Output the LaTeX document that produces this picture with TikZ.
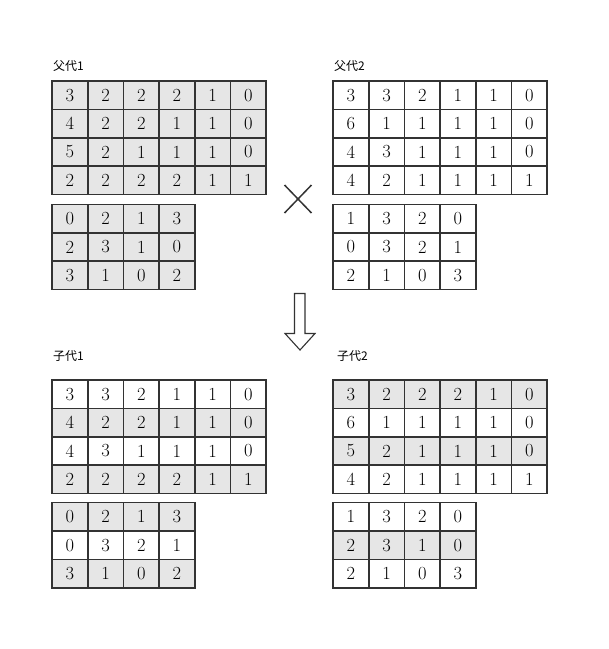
\documentclass[tikz,border=0pt]{standalone}
\usepackage{fontspec}
\newfontfamily\cjk{Noto Sans CJK SC}
\definecolor{cellgray}{HTML}{E6E6E6}
\definecolor{gridline}{HTML}{333333}
\tikzset{
  cell/.style={draw=gridline, line width=1.6pt, minimum width=35.7pt, minimum height=28.4pt,
    inner sep=0pt, font=\fontsize{18.5}{18.5}\selectfont},
  title/.style={anchor=west, inner sep=0pt, font=\cjk\fontsize{12}{12}\selectfont},
  mark cross/.style={draw=gridline, line width=1.5pt},
  hollow arrow/.style={draw=gridline, line width=1.1pt, fill=white}
}
\begin{document}
\begin{tikzpicture}[x=1pt,y=-1pt]
\useasboundingbox (0,0) rectangle (609,649);

% parent 1
\node[title] (palab) at (53,66) {父代1};
\foreach \r/\f/\vals in {0/cellgray/{3,2,2,2,1,0},1/cellgray/{4,2,2,1,1,0},
                          2/cellgray/{5,2,1,1,1,0},3/cellgray/{2,2,2,2,1,1}}
  \foreach \v [count=\c] in \vals
    \node[cell,fill=\f] (pa\r\c) at ({52+35.7*(\c-0.5)},{81+28.4*(\r+0.5)}) {\v};
\foreach \r/\f/\vals in {0/cellgray/{0,2,1,3},1/cellgray/{2,3,1,0},2/cellgray/{3,1,0,2}}
  \foreach \v [count=\c] in \vals
    \node[cell,fill=\f] (pb\r\c) at ({52+35.7*(\c-0.5)},{204.3+28.4*(\r+0.5)}) {\v};

% parent 2
\node[title] (qalab) at (334,66) {父代2};
\foreach \r/\f/\vals in {0/white/{3,3,2,1,1,0},1/white/{6,1,1,1,1,0},
                          2/white/{4,3,1,1,1,0},3/white/{4,2,1,1,1,1}}
  \foreach \v [count=\c] in \vals
    \node[cell,fill=\f] (qa\r\c) at ({333+35.7*(\c-0.5)},{81+28.4*(\r+0.5)}) {\v};
\foreach \r/\f/\vals in {0/white/{1,3,2,0},1/white/{0,3,2,1},2/white/{2,1,0,3}}
  \foreach \v [count=\c] in \vals
    \node[cell,fill=\f] (qb\r\c) at ({333+35.7*(\c-0.5)},{204.3+28.4*(\r+0.5)}) {\v};

% crossover sign and arrow
\draw[mark cross] (284.5,185) -- (311.5,213);
\draw[mark cross] (284.5,213) -- (311.5,185);
\draw[hollow arrow] (294.5,293.5) -- (305,293.5) -- (305,333.5) -- (315,333.5)
  -- (300,350) -- (285,333.5) -- (294.5,333.5) -- cycle;

% child 1
\node[title] (calab) at (53,356) {子代1};
\foreach \r/\f/\vals in {0/white/{3,3,2,1,1,0},1/cellgray/{4,2,2,1,1,0},
                          2/white/{4,3,1,1,1,0},3/cellgray/{2,2,2,2,1,1}}
  \foreach \v [count=\c] in \vals
    \node[cell,fill=\f] (ca\r\c) at ({52+35.7*(\c-0.5)},{380+28.4*(\r+0.5)}) {\v};
\foreach \r/\f/\vals in {0/cellgray/{0,2,1,3},1/white/{0,3,2,1},2/cellgray/{3,1,0,2}}
  \foreach \v [count=\c] in \vals
    \node[cell,fill=\f] (cb\r\c) at ({52+35.7*(\c-0.5)},{502.5+28.4*(\r+0.5)}) {\v};

% child 2
\node[title] (dalab) at (337,356) {子代2};
\foreach \r/\f/\vals in {0/cellgray/{3,2,2,2,1,0},1/white/{6,1,1,1,1,0},
                          2/cellgray/{5,2,1,1,1,0},3/white/{4,2,1,1,1,1}}
  \foreach \v [count=\c] in \vals
    \node[cell,fill=\f] (da\r\c) at ({333+35.7*(\c-0.5)},{380+28.4*(\r+0.5)}) {\v};
\foreach \r/\f/\vals in {0/white/{1,3,2,0},1/cellgray/{2,3,1,0},2/white/{2,1,0,3}}
  \foreach \v [count=\c] in \vals
    \node[cell,fill=\f] (db\r\c) at ({333+35.7*(\c-0.5)},{502.5+28.4*(\r+0.5)}) {\v};
\end{tikzpicture}
\end{document}
